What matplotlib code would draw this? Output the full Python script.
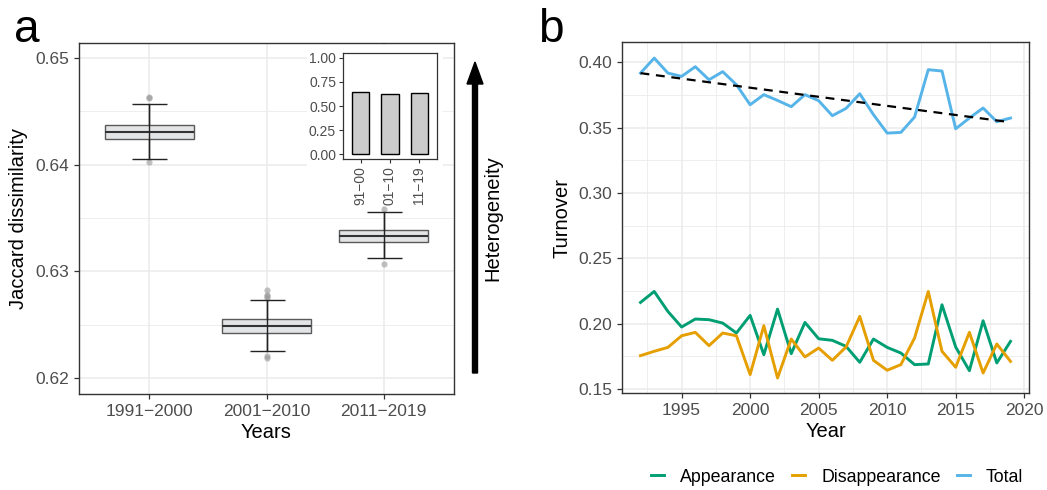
import numpy as np
import matplotlib
matplotlib.use("Agg")
import matplotlib.pyplot as plt
from matplotlib.patches import Rectangle, FancyArrow
from matplotlib.lines import Line2D
from matplotlib.ticker import MultipleLocator

plt.rcParams['font.family'] = ['Liberation Sans', 'DejaVu Sans']

# ---------------- Panel a data ----------------
periods = ["1991\u22122000", "2001\u22122010", "2011\u22122019"]
short_periods = ["91\u221200", "01\u221210", "11\u221219"]
box_q1 = [0.6424, 0.62423, 0.63275]
box_med = [0.6431, 0.62485, 0.63334]
box_q3 = [0.64375, 0.62554, 0.63391]
whisker_lo = [0.6405, 0.6225, 0.63126]
whisker_hi = [0.6457, 0.62728, 0.63553]
outliers = [[0.6462, 0.6463, 0.6402],
            [0.62828, 0.62782, 0.6277, 0.6275, 0.6221, 0.6219],
            [0.63585, 0.63072]]
mean_dissim = [0.643, 0.625, 0.633]

# ---------------- Panel b data ----------------
years = list(range(1992, 2020))
total = [0.3918, 0.4033, 0.3918, 0.3893, 0.3967, 0.3867, 0.3929, 0.3829,
         0.3676, 0.3753, 0.3709, 0.3661, 0.3753, 0.3707, 0.3592, 0.3648,
         0.3760, 0.3600, 0.3459, 0.3464, 0.3582, 0.3944, 0.3934, 0.3492,
         0.3574, 0.3651, 0.3546, 0.3574]
appearance = [0.2163, 0.2247, 0.2094, 0.1975, 0.2036, 0.2031, 0.2005, 0.1929,
              0.2064, 0.1763, 0.2112, 0.1771, 0.2010, 0.1885, 0.1873, 0.1827,
              0.1705, 0.1883, 0.1819, 0.1776, 0.1687, 0.1692, 0.2145, 0.1822,
              0.1641, 0.2023, 0.1700, 0.1865]
disappearance = [0.1756, 0.1789, 0.1819, 0.1908, 0.1934, 0.1832, 0.1929, 0.1908,
                 0.1611, 0.1985, 0.1585, 0.1883, 0.1746, 0.1814, 0.1720, 0.1822,
                 0.2056, 0.1720, 0.1644, 0.1687, 0.1891, 0.2247, 0.1789, 0.1667,
                 0.1934, 0.1623, 0.1845, 0.1712]
series_names = ["Appearance", "Disappearance", "Total"]
series_colors = ["#009E73", "#E69F00", "#56B4E9"]

W, H = 1047, 490
fig = plt.figure(figsize=(W / 100, H / 100), dpi=100)

def px_axes(l, t, r, b):
    return fig.add_axes([l / W, (H - b) / H, (r - l) / W, (b - t) / H])

TICK_COLOR = "#4d4d4d"
GRID_MAJ = "#ebebeb"

def style_axes(ax):
    for s in ax.spines.values():
        s.set_color("#333333")
        s.set_linewidth(1.0)
    ax.tick_params(axis='both', colors="#333333", labelcolor=TICK_COLOR,
                   labelsize=12.5, length=3.5, width=0.9)
    ax.set_axisbelow(True)

# ---------------- Panel a ----------------
axa = px_axes(79, 43, 454, 394)
style_axes(axa)
axa.set_xlim(0.4, 3.6)
axa.set_ylim(0.6185, 0.6514)
axa.yaxis.set_major_locator(MultipleLocator(0.01))
axa.yaxis.set_minor_locator(MultipleLocator(0.005))
axa.tick_params(axis='y', which='minor', length=0)
axa.grid(True, which='major', color=GRID_MAJ, lw=1.1)
axa.grid(True, which='minor', axis='y', color=GRID_MAJ, lw=0.6)
axa.yaxis.set_major_formatter(matplotlib.ticker.FormatStrFormatter('%.2f'))

pos = np.arange(1, len(periods) + 1)
stats = []
for i in range(len(periods)):
    stats.append(dict(med=box_med[i], q1=box_q1[i], q3=box_q3[i],
                      whislo=whisker_lo[i], whishi=whisker_hi[i],
                      fliers=outliers[i]))
axa.bxp(stats, positions=pos, widths=0.76, patch_artist=True, showcaps=False,
        boxprops=dict(facecolor="#e2e4e6", edgecolor="#5a5a5a", lw=1.0),
        medianprops=dict(color="#333333", lw=1.5),
        whiskerprops=dict(color="#333333", lw=1.0),
        flierprops=dict(marker='o', markerfacecolor="#999999", markeredgecolor='none',
                        markersize=4.5, alpha=0.6),
        zorder=3)
med = np.array(box_med)
axa.errorbar(pos, med, yerr=[med - np.array(whisker_lo), np.array(whisker_hi) - med],
             fmt='none', ecolor="#222222", elinewidth=1.0, capsize=12.6,
             capthick=1.0, zorder=4)
axa.set_xticks(pos)
axa.set_xticklabels(periods)
axa.set_xlabel("Years", fontsize=14.5, labelpad=3)
axa.set_ylabel("Jaccard dissimilarity", fontsize=14.5, labelpad=5)

# white background behind inset
fig.patches.append(Rectangle((307 / W, (H - 206) / H), (443 - 307) / W, (206 - 45) / H,
                             transform=fig.transFigure, facecolor='white',
                             edgecolor='none', zorder=1))

# inset
axi = px_axes(343, 53, 437, 159)
axi.set_zorder(3)
for s in axi.spines.values():
    s.set_color("#333333")
    s.set_linewidth(0.9)
axi.bar(pos, mean_dissim, width=0.6, color="#cccccc", edgecolor="black", lw=1.0)
axi.set_xlim(0.4, 3.6)
axi.set_ylim(-0.05, 1.05)
axi.set_yticks([0, 0.25, 0.5, 0.75, 1.0])
axi.set_yticklabels(["0.00", "0.25", "0.50", "0.75", "1.00"])
axi.set_xticks(pos)
axi.set_xticklabels(short_periods, rotation=90)
axi.tick_params(axis='both', colors="#333333", labelcolor=TICK_COLOR,
                labelsize=10, length=3, width=0.8, pad=2)

# heterogeneity arrow
fig.patches.append(FancyArrow(475 / 100, (H - 373) / 100, 0, (373 - 62) / 100,
                              width=0.05, head_width=0.16, head_length=0.22,
                              length_includes_head=True, color='black',
                              transform=fig.dpi_scale_trans, zorder=2))
fig.text(493 / W, (H - 218) / H, "Heterogeneity", rotation=90, ha='center',
         va='center', fontsize=14.5)

# ---------------- Panel b ----------------
axb = px_axes(622, 42, 1029, 393)
style_axes(axb)
axb.set_xlim(1990.65, 2020.35)
axb.set_ylim(0.147, 0.4156)
axb.xaxis.set_major_locator(MultipleLocator(5))
axb.xaxis.set_minor_locator(MultipleLocator(2.5))
axb.yaxis.set_major_locator(MultipleLocator(0.05))
axb.yaxis.set_minor_locator(MultipleLocator(0.025))
axb.tick_params(which='minor', length=0)
axb.grid(True, which='major', color=GRID_MAJ, lw=1.1)
axb.grid(True, which='minor', color=GRID_MAJ, lw=0.6)
axb.yaxis.set_major_formatter(matplotlib.ticker.FormatStrFormatter('%.2f'))
axb.set_xticks([1995, 2000, 2005, 2010, 2015, 2020])

for vals, name, col in zip([appearance, disappearance, total], series_names, series_colors):
    axb.plot(years, vals, color=col, lw=2.1, label=name, zorder=3)
coef = np.polyfit(years, total, 1)
yr = np.array([years[0], years[-1]])
axb.plot(yr, np.polyval(coef, yr), color='black', lw=1.6, ls=(0, (4, 3)), zorder=4)

axb.set_xlabel("Year", fontsize=14.5, labelpad=3)
axb.set_ylabel("Turnover", fontsize=14.5, labelpad=5)

handles = [Line2D([], [], color=c, lw=2.1) for c in series_colors]
fig.legend(handles, series_names, loc='center', bbox_to_anchor=(837 / W, (H - 477) / H),
           ncol=3, frameon=False, fontsize=12.8, handlelength=0.75, handletextpad=0.9,
           columnspacing=0.9)

# panel letters
fig.text(14 / W, (H - 42) / H, "a", fontsize=33, ha='left', va='baseline')
fig.text(538 / W, (H - 42) / H, "b", fontsize=33, ha='left', va='baseline')

fig.savefig("out.png", dpi=100)
